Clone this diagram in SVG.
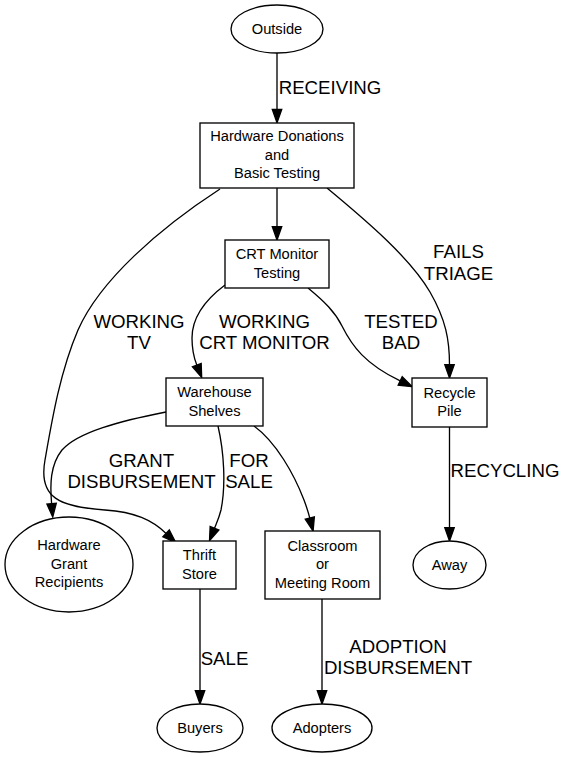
<svg xmlns="http://www.w3.org/2000/svg" width="567" height="757" viewBox="0 0 567 757">
<style>
.n{fill:#fff;stroke:#000;stroke-width:1.33}
.nt{font-family:"Liberation Sans",Arial,sans-serif;font-size:14.67px;text-anchor:middle;fill:#000}
.e{fill:none;stroke:#000;stroke-width:1.33}
.el{font-family:"Liberation Sans",Arial,sans-serif;font-size:18.67px;text-anchor:middle;fill:#000}
</style>
<defs>
<marker id="arr" markerUnits="userSpaceOnUse" markerWidth="16" markerHeight="12" refX="0.5" refY="5.5" orient="auto" overflow="visible">
<path d="M0.5,0.8 L13.8,5.5 L0.5,10.2 Z" fill="#000" stroke="#000" stroke-width="1.33"/>
</marker>
</defs>
<rect x="0" y="0" width="567" height="757" fill="#fff"/>
<g id="connectors">
<path class="e" marker-end="url(#arr)" d="M277,53 V109.5"/>
<text class="el" x="330" y="94">RECEIVING</text>
<path class="e" marker-end="url(#arr)" d="M277,188 V226.7"/>
<path class="e" marker-end="url(#arr)" d="M327,188 C368,222 410,258 430,292 C446,320 449.5,340 449.5,364.7"/>
<text class="el" x="458.5" y="258">FAILS</text>
<text class="el" x="458.5" y="280">TRIAGE</text>
<path class="e" marker-end="url(#arr)" d="M220,189 C160,228 100,280 78,330 C60,372 52,420 45,460 C38,498 60,507 105,510 C135,512 152,520 166.1,533.4"/>
<text class="el" x="139" y="328">WORKING</text>
<text class="el" x="139" y="349">TV</text>
<path class="e" marker-end="url(#arr)" d="M225,285 C205,300 192,318 192,338 C192,350 194,358 196.8,365.1"/>
<text class="el" x="264.5" y="328">WORKING</text>
<text class="el" x="264.5" y="349">CRT MONITOR</text>
<path class="e" marker-end="url(#arr)" d="M308,288 C325,302 335,312 342,326 C352,346 365,364 400.2,380.9"/>
<text class="el" x="401" y="328">TESTED</text>
<text class="el" x="401" y="349">BAD</text>
<path class="e" marker-end="url(#arr)" d="M166,412 C120,421 78,432 62,450 C50,465 50,485 51.6,503.7"/>
<text class="el" x="141.5" y="467">GRANT</text>
<text class="el" x="141.5" y="488">DISBURSEMENT</text>
<path class="e" marker-end="url(#arr)" d="M218,426 C224,452 226,485 221,510 C219,518 217,522 214.5,528.2"/>
<text class="el" x="249" y="467">FOR</text>
<text class="el" x="249" y="488">SALE</text>
<path class="e" marker-end="url(#arr)" d="M254,426 C276,442 294,474 304,500 C307,508 308.5,513 309.8,518.1"/>
<path class="e" marker-end="url(#arr)" d="M449.5,427 V527.7"/>
<text class="el" x="505" y="477">RECYCLING</text>
<path class="e" marker-end="url(#arr)" d="M200,589 V690.7"/>
<text class="el" x="224.5" y="665">SALE</text>
<path class="e" marker-end="url(#arr)" d="M322,599 V690.7"/>
<text class="el" x="398" y="653">ADOPTION</text>
<text class="el" x="398" y="674">DISBURSEMENT</text>
</g>
<g id="outside"><ellipse class="n" cx="277" cy="29" rx="46" ry="24"/><text class="nt" x="277" y="34">Outside</text></g>
<g id="hardware"><rect class="n" x="200" y="123" width="154" height="65"/><text class="nt" x="277" y="141">Hardware Donations</text><text class="nt" x="277" y="159.5">and</text><text class="nt" x="277" y="178">Basic Testing</text></g>
<g id="crt"><rect class="n" x="225" y="240" width="104" height="48"/><text class="nt" x="277" y="259">CRT Monitor</text><text class="nt" x="277" y="277.5">Testing</text></g>
<g id="warehouse"><rect class="n" x="166" y="378" width="97" height="48"/><text class="nt" x="214.5" y="397">Warehouse</text><text class="nt" x="214.5" y="415.5">Shelves</text></g>
<g id="recycle"><rect class="n" x="412" y="378" width="75" height="49"/><text class="nt" x="449.5" y="397.5">Recycle</text><text class="nt" x="449.5" y="416">Pile</text></g>
<g id="grant"><ellipse class="n" cx="69" cy="564.5" rx="64" ry="47.5"/><text class="nt" x="69" y="550">Hardware</text><text class="nt" x="69" y="568.5">Grant</text><text class="nt" x="69" y="587">Recipients</text></g>
<g id="thrift"><rect class="n" x="163" y="541" width="73" height="48"/><text class="nt" x="199.5" y="560">Thrift</text><text class="nt" x="199.5" y="578.5">Store</text></g>
<g id="classroom"><rect class="n" x="265" y="531" width="115" height="68"/><text class="nt" x="322.5" y="550.5">Classroom</text><text class="nt" x="322.5" y="569">or</text><text class="nt" x="322.5" y="587.5">Meeting Room</text></g>
<g id="away"><ellipse class="n" cx="449.5" cy="565" rx="36.5" ry="24"/><text class="nt" x="449.5" y="570">Away</text></g>
<g id="buyers"><ellipse class="n" cx="200" cy="728" rx="43" ry="24"/><text class="nt" x="200" y="733">Buyers</text></g>
<g id="adopters"><ellipse class="n" cx="322" cy="728" rx="50" ry="24"/><text class="nt" x="322" y="733">Adopters</text></g>
</svg>
